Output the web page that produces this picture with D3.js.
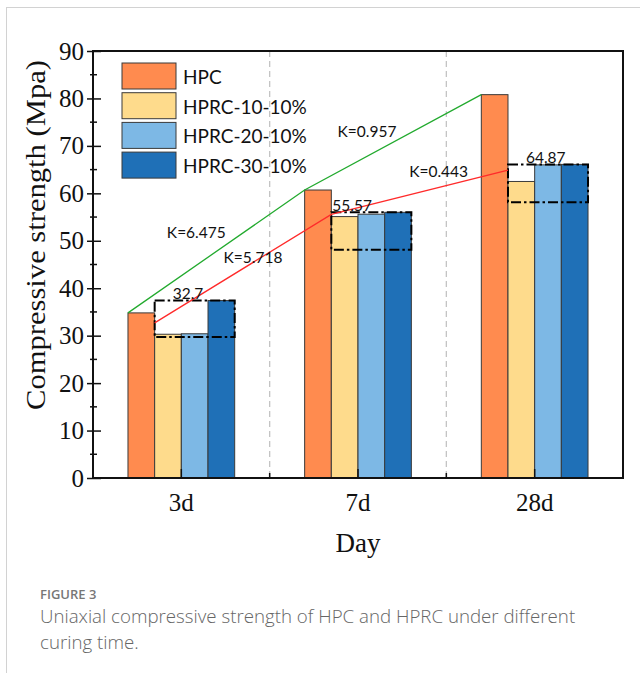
<!DOCTYPE html>
<html>
<head>
<meta charset="utf-8">
<script src="https://cdn.jsdelivr.net/npm/d3@7/dist/d3.min.js"></script>
<style>
  html, body { margin: 0; padding: 0; background: #fff; }
  svg { display: block; }
</style>
</head>
<body>
<svg id="chart" width="640" height="673"></svg>
<script>
// Curing ages and their length in days
const categories = ["3d", "7d", "28d"];
const days = [3, 7, 28];

// Series
const seriesNames = ["HPC", "HPRC-10-10%", "HPRC-20-10%", "HPRC-30-10%"];
const hpc    = [34.8, 60.7, 80.8];
const hprc10 = [30.3, 55.1, 62.5];
const hprc20 = [30.4, 55.6, 66.0];
const hprc30 = [37.4, 56.0, 66.1];

// Mean of the three HPRC mixes and the lower edge of their spread band
const hprcMean = [32.7, 55.57, 64.87];
const bandLow  = [29.7, 48.1, 58.1];

// Axis ticks
const yTicks = [0, 10, 20, 30, 40, 50, 60, 70, 80, 90];
const yMinorTicks = [5, 15, 25, 35, 45, 55, 65, 75, 85];

// Caption lines
const captionLines = [
  "Uniaxial compressive strength of HPC and HPRC under different",
  "curing time."
];

const colors = ["#FF8B4F", "#FEDB8C", "#7DB8E5", "#1F70B7"];
const seriesValues = [hpc, hprc10, hprc20, hprc30];

const svg = d3.select("#chart");
const W = 640, H = 673;
const plot = { left: 93, right: 623, top: 51, bottom: 478 };

// Page frame lines
svg.append("line").attr("x1", 6.5).attr("x2", 6.5).attr("y1", 7).attr("y2", H)
  .attr("stroke", "#d2d2d2").attr("stroke-width", 1);
svg.append("line").attr("x1", 6).attr("x2", W).attr("y1", 7.5).attr("y2", 7.5)
  .attr("stroke", "#d2d2d2").attr("stroke-width", 1);

const x = d3.scaleBand().domain(categories).range([plot.left, plot.right]);
const groupW = x.bandwidth() * 0.604;
const xs = d3.scaleBand().domain(seriesNames).range([0, groupW]);
const y = d3.scaleLinear().domain([0, 90]).range([plot.bottom, plot.top]);
const groupLeft = c => x(c) + (x.bandwidth() - groupW) / 2;

// Dashed separators between ages
const seps = categories.slice(1).map(c => x(c));
svg.append("g").selectAll("line").data(seps).join("line")
  .attr("x1", d => d).attr("x2", d => d)
  .attr("y1", plot.top).attr("y2", plot.bottom)
  .attr("stroke", "#c4c4c4").attr("stroke-width", 1.3)
  .attr("stroke-dasharray", "6,4");

// Bars
const barData = [];
categories.forEach((c, i) => {
  seriesNames.forEach((s, j) => {
    barData.push({ c, s, j, v: seriesValues[j][i] });
  });
});
svg.append("g").selectAll("rect").data(barData).join("rect")
  .attr("x", d => groupLeft(d.c) + xs(d.s))
  .attr("y", d => y(d.v))
  .attr("width", xs.bandwidth())
  .attr("height", d => plot.bottom - y(d.v))
  .attr("fill", d => colors[d.j])
  .attr("stroke", "#3a3a3a")
  .attr("stroke-width", 1);

// Spread band of the HPRC mixes (dash-dot box)
const boxG = svg.append("g");
categories.forEach((c, i) => {
  const x0 = groupLeft(c) + xs(seriesNames[1]);
  const x1 = groupLeft(c) + xs(seriesNames[3]) + xs.bandwidth();
  const top = d3.max([hprc10[i], hprc20[i], hprc30[i]]);
  boxG.append("rect")
    .attr("x", x0).attr("y", y(top))
    .attr("width", x1 - x0).attr("height", y(bandLow[i]) - y(top))
    .attr("fill", "none").attr("stroke", "#000").attr("stroke-width", 2)
    .attr("stroke-dasharray", "10,3,2.5,3");
});

// Growth lines: HPC strength and HPRC mean
const hpcPts = categories.map((c, i) => [groupLeft(c) + xs(seriesNames[0]), y(hpc[i])]);
const meanPts = categories.map((c, i) => [groupLeft(c) + xs(seriesNames[1]), y(hprcMean[i])]);
const line = d3.line();
svg.append("path").attr("d", line(hpcPts)).attr("fill", "none")
  .attr("stroke", "#22AA2E").attr("stroke-width", 1.3);
svg.append("path").attr("d", line(meanPts)).attr("fill", "none")
  .attr("stroke", "#FF2A2A").attr("stroke-width", 1.3);

// Slope labels (strength gain per day, rounded half-up to 3 decimals)
const roundK = k => (Math.round(k * 1000 + 1e-6) / 1000).toFixed(3);
const kOffsets = { hpc: [[-20, -13.5], [-26, -5.5]], mean: [[10, -5.5], [19, -15]] };
const annFont = "Lato, 'Open Sans', sans-serif";
function slopeLabels(vals, pts, offs) {
  for (let i = 0; i < vals.length - 1; i++) {
    const k = (vals[i + 1] - vals[i]) / (days[i + 1] - days[i]);
    const mx = (pts[i][0] + pts[i + 1][0]) / 2;
    const my = (pts[i][1] + pts[i + 1][1]) / 2;
    svg.append("text")
      .attr("x", mx + offs[i][0]).attr("y", my + offs[i][1])
      .attr("text-anchor", "middle")
      .attr("font-family", annFont).attr("font-size", 15.5)
      .attr("fill", "#111")
      .text("K=" + roundK(k));
  }
}
slopeLabels(hpc, hpcPts, kOffsets.hpc);
slopeLabels(hprcMean, meanPts, kOffsets.mean);

// Mean value labels above the spread boxes
const meanDx = [18, 1, 18];
categories.forEach((c, i) => {
  const x0 = groupLeft(c) + xs(seriesNames[1]);
  const top = d3.max([hprc10[i], hprc20[i], hprc30[i]]);
  svg.append("text")
    .attr("x", x0 + meanDx[i]).attr("y", y(top) - 1.5)
    .attr("font-family", annFont).attr("font-size", 15.5)
    .attr("fill", "#111")
    .text(hprcMean[i]);
});

// Plot frame
svg.append("rect")
  .attr("x", plot.left).attr("y", plot.top)
  .attr("width", plot.right - plot.left).attr("height", plot.bottom - plot.top)
  .attr("fill", "none").attr("stroke", "#111").attr("stroke-width", 2);

// Y axis
const serif = "'Liberation Serif', 'Times New Roman', serif";
const yAxis = d3.axisLeft(y).tickValues(yTicks).tickSizeInner(-8).tickSizeOuter(0).tickPadding(12);
const gy = svg.append("g").attr("transform", `translate(${plot.left},0)`).call(yAxis);
gy.select(".domain").remove();
gy.selectAll(".tick line").attr("stroke", "#111").attr("stroke-width", 1.5)
  .attr("x1", -6).attr("x2", 8);
gy.selectAll(".tick text").attr("font-family", serif).attr("font-size", 25)
  .attr("fill", "#111").attr("x", -9);
svg.append("g").selectAll("line").data(yMinorTicks).join("line")
  .attr("x1", plot.left - 3).attr("x2", plot.left + 4)
  .attr("y1", d => y(d)).attr("y2", d => y(d))
  .attr("stroke", "#111").attr("stroke-width", 1.5);

// X axis
const xAxis = d3.axisBottom(x).tickSizeInner(-9).tickSizeOuter(0).tickPadding(15);
const gx = svg.append("g").attr("transform", `translate(0,${plot.bottom})`).call(xAxis);
gx.select(".domain").remove();
gx.selectAll(".tick line").attr("stroke", "#111").attr("stroke-width", 1.5);
gx.selectAll(".tick text").attr("font-family", serif).attr("font-size", 25).attr("fill", "#111");
svg.append("g").selectAll("line").data(seps).join("line")
  .attr("x1", d => d).attr("x2", d => d)
  .attr("y1", plot.bottom).attr("y2", plot.bottom - 5)
  .attr("stroke", "#111").attr("stroke-width", 1.5);

// Axis titles
svg.append("text")
  .attr("x", (plot.left + plot.right) / 2).attr("y", 552)
  .attr("text-anchor", "middle").attr("font-family", serif).attr("font-size", 27)
  .attr("fill", "#111").text("Day");
svg.append("text")
  .attr("transform", "translate(45,235) rotate(-90)")
  .attr("text-anchor", "middle").attr("font-family", serif).attr("font-size", 27)
  .attr("textLength", 350).attr("lengthAdjust", "spacingAndGlyphs")
  .attr("fill", "#111").text("Compressive strength (Mpa)");

// Legend
const legend = svg.append("g").attr("transform", "translate(122,63)");
seriesNames.forEach((s, j) => {
  const g = legend.append("g").attr("transform", `translate(0,${j * 29.7})`);
  g.append("rect").attr("width", 54).attr("height", 26)
    .attr("fill", colors[j]).attr("stroke", "#3a3a3a").attr("stroke-width", 1);
  g.append("text").attr("x", 61).attr("y", 21)
    .attr("font-family", annFont).attr("font-size", 19).attr("fill", "#111")
    .text(s);
});

// Caption
const capFont = "'Open Sans', 'Noto Sans', sans-serif";
svg.append("text").attr("x", 40).attr("y", 599)
  .attr("font-family", capFont).attr("font-size", 13).attr("font-weight", 600)
  .attr("fill", "#777").text("FIGURE 3");
svg.append("text").attr("x", 40).attr("y", 623)
  .attr("font-family", capFont).attr("font-size", 18.7).attr("font-weight", 300)
  .attr("fill", "#666")
  .selectAll("tspan").data(captionLines).join("tspan")
  .attr("x", 40).attr("dy", (d, i) => i === 0 ? 0 : 26)
  .text(d => d);
</script>
</body>
</html>
